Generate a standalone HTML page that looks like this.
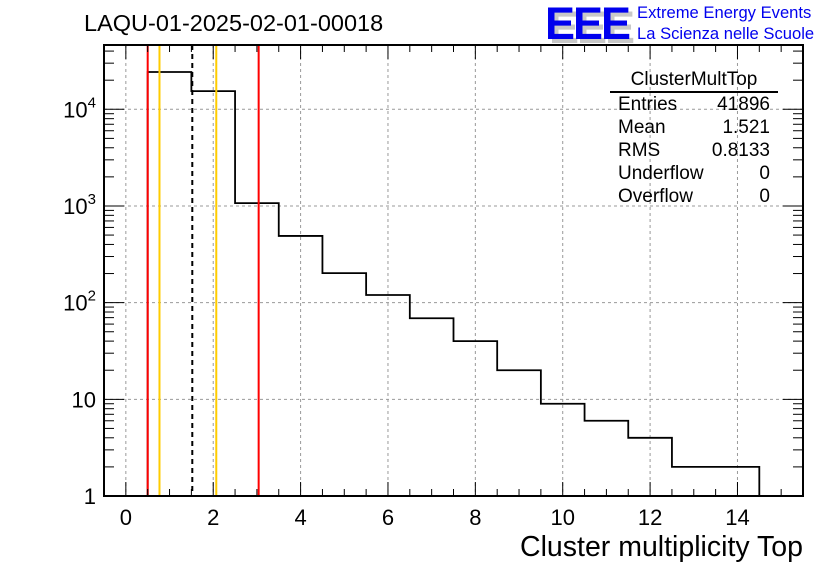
<!DOCTYPE html>
<html><head><meta charset="utf-8"><style>
body{margin:0;background:#fff;}
svg{display:block;font-family:"Liberation Sans",sans-serif;}
</style></head><body>
<svg id="c" width="836" height="572"></svg>
<script>
const binLow=[0.5,1.5,2.5,3.5,4.5,5.5,6.5,7.5,8.5,9.5,10.5,11.5,12.5,13.5];
const counts=[24300,15400,1070,490,202,120,69,40,20,9,6,4,2,2];
const xTicks=[0,2,4,6,8,10,12,14];
const yTicks=[1,10,100,1000,10000];
const yTickLabels=["1","10","10²","10³","10⁴"];
const vLines=[{x:0.5,c:"#ff0000",d:""},{x:0.77,c:"#ffcc00",d:""},{x:1.521,c:"#000",d:"5,4"},{x:2.07,c:"#ffcc00",d:""},{x:3.04,c:"#ff0000",d:""}];
const stats=[["Entries","41896"],["Mean","1.521"],["RMS","0.8133"],["Underflow","0"],["Overflow","0"]];
const L=104,R=803,T=45,B=496,xmin=-0.5,xmax=15.5,lmin=0,lmax=4.665;
const sx=v=>L+(v-xmin)/(xmax-xmin)*(R-L);
const sy=v=>B-(Math.log10(v)-lmin)/(lmax-lmin)*(B-T);
const svg=document.getElementById('c');const NS="http://www.w3.org/2000/svg";
function mk(t,a,p){const e=document.createElementNS(NS,t);for(const k in a)e.setAttribute(k,a[k]);(p||svg).appendChild(e);return e;}
for(const t of xTicks){const g=mk('line',{x1:sx(t),x2:sx(t),y1:T,y2:B,stroke:'#999','stroke-dasharray':'3,3'});

}
for(const t of yTicks){if(t===1)continue;const g=mk('line',{x1:L,x2:R,y1:sy(t),y2:sy(t),stroke:'#999','stroke-dasharray':'3,3'});

}
let d="M"+sx(binLow[0])+","+B;
binLow.forEach((b,i)=>{d+=" L"+sx(b)+","+sy(counts[i])+" L"+sx(b+1)+","+sy(counts[i]);});
d+=" L"+sx(binLow[binLow.length-1]+1)+","+B;
const h=mk('path',{d:d,fill:'none',stroke:'#000','stroke-width':1.8});


for(const v of vLines){const l=mk('line',{x1:sx(v.x),x2:sx(v.x),y1:T,y2:B,stroke:v.c,'stroke-width':2,'stroke-dasharray':v.d});

}
const f=mk('rect',{x:L,y:T,width:R-L,height:B-T,fill:'none',stroke:'#000','stroke-width':2});


for(let v=0;v<=15.01;v+=0.5){const maj=Math.abs(v%2)<1e-6;const len=maj?14:7;
mk('line',{x1:sx(v),x2:sx(v),y1:B,y2:B-len,stroke:'#000'});mk('line',{x1:sx(v),x2:sx(v),y1:T,y2:T+len,stroke:'#000'});}
xTicks.forEach(t=>{const e=mk('text',{x:sx(t),y:B+29,'font-size':22,'text-anchor':'middle'});e.textContent=t;

});
for(let dec=0;dec<5;dec++){for(let m=1;m<10;m++){const v=m*Math.pow(10,dec);if(Math.log10(v)>lmax)break;const len=m===1?20:10;
mk('line',{x1:L,x2:L+len,y1:sy(v),y2:sy(v),stroke:'#000'});mk('line',{x1:R,x2:R-len,y1:sy(v),y2:sy(v),stroke:'#000'});}}
yTicks.forEach((t,i)=>{const e=mk('text',{x:L-8,y:sy(t)+8,'font-size':22,'text-anchor':'end'});
if(t>=100){e.textContent="10";const s=mk('tspan',{dy:-10,'font-size':15},e);s.textContent=String(Math.round(Math.log10(t)));}else e.textContent=yTickLabels[i];

});
</script>
<div style="position:absolute;left:0;top:0;width:836px;height:572px;pointer-events:none;font-family:'Liberation Sans',sans-serif;">
<div style="position:absolute;left:84px;top:10px;font-size:23.5px;">LAQU-01-2025-02-01-00018</div>
<div style="position:absolute;right:33px;top:531px;font-size:28.5px;">Cluster multiplicity Top</div>
<div style="position:absolute;left:545px;top:-2px;font-size:45px;font-weight:bold;color:#c8c8c8;letter-spacing:-2px;">
<span style="position:absolute;left:4px;top:4px;">EEE</span><span style="position:relative;color:#0000ee;">EEE</span></div>
<div style="position:absolute;left:637px;top:2px;font-size:16.6px;color:#0000ee;line-height:21px;">Extreme Energy Events<br>La Scienza nelle Scuole</div>
<div style="position:absolute;left:610px;top:68px;width:168px;font-size:19px;">
<div style="text-align:center;border-bottom:2px solid #000;line-height:23px;">ClusterMultTop</div>
<div id="st"></div></div>
</div>
<script>
const st=document.getElementById('st');
for(const [k,v] of stats){const r=document.createElement('div');r.style.cssText="display:flex;justify-content:space-between;padding:0 8px 0 8px;line-height:23px;";


r.innerHTML="<span>"+k+"</span><span>"+v+"</span>";st.appendChild(r);}
</script>
</body></html>
